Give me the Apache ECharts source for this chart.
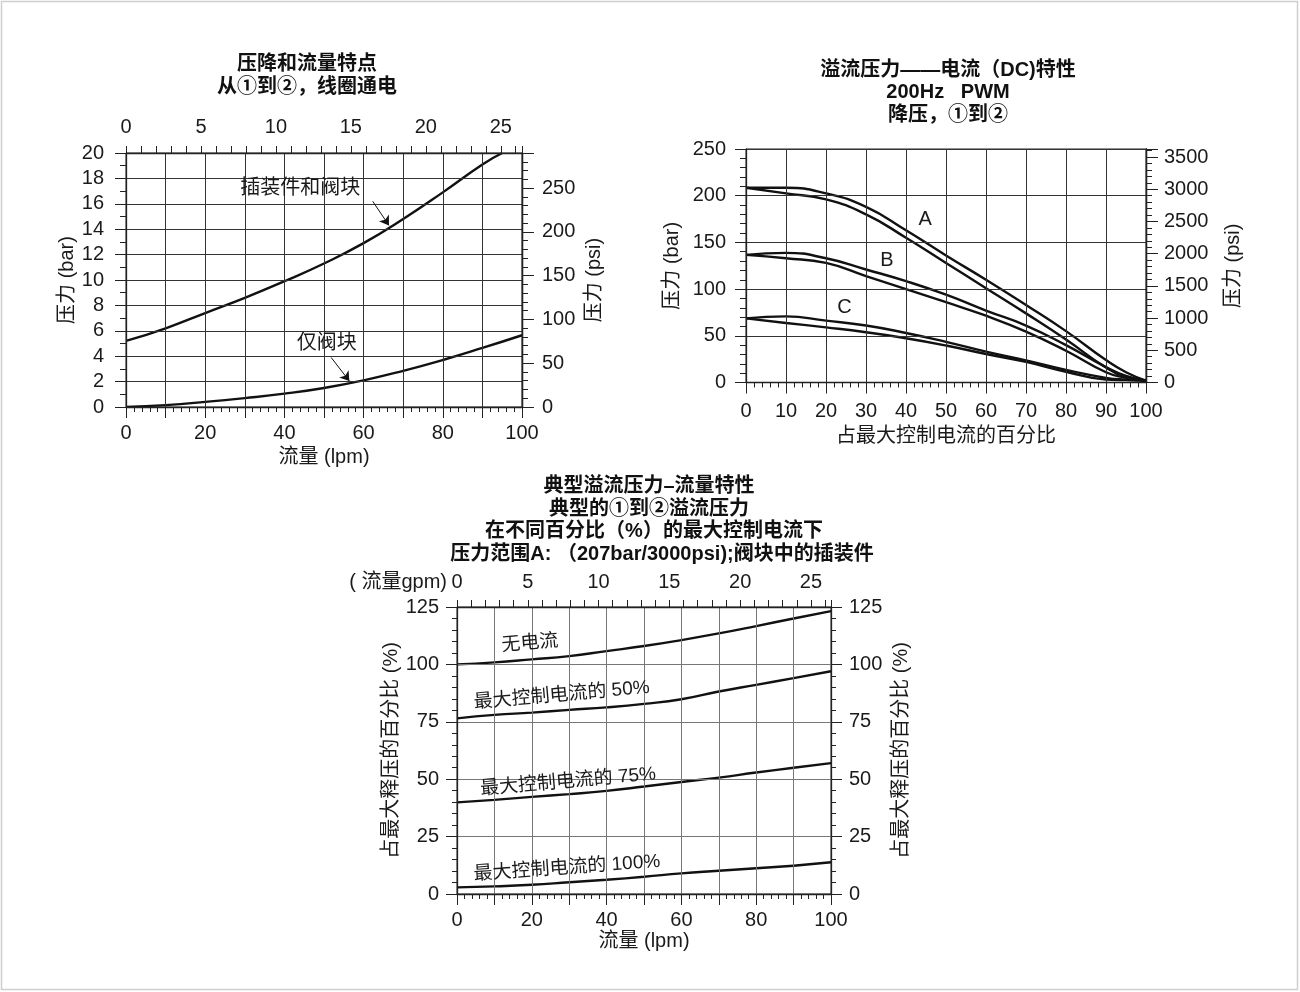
<!DOCTYPE html>
<html><head><meta charset="utf-8">
<script src="https://cdn.jsdelivr.net/npm/echarts@6/dist/echarts.min.js"></script>
<style>html,body{margin:0;padding:0;background:#fff}#c{width:1300px;height:992px}</style>
</head><body><div id="c"></div>
<script>
// ---------- data ----------
const BAR_TO_PSI = 14.5038;
const LPM_TO_GPM = 1 / 3.78541;

// Chart 1: pressure drop vs flow
const c1FlowA = [0, 10, 20, 30, 40, 50, 60, 70, 80, 90, 95];
const c1CartridgeBlock = [5.2, 6.2, 7.4, 8.6, 9.9, 11.3, 12.9, 14.8, 16.9, 19.1, 20.0];
const c1FlowB = [0, 10, 20, 30, 40, 50, 60, 70, 80, 90, 100];
const c1BlockOnly = [0, 0.15, 0.4, 0.7, 1.05, 1.5, 2.1, 2.85, 3.7, 4.65, 5.65];

// Chart 2: relief pressure vs current (hysteresis pairs)
const c2Pct = [0, 10, 20, 30, 40, 50, 60, 70, 80, 90, 95, 100];
const c2AUpper = [208.5, 208.5, 202.5, 188, 163, 136, 110, 83, 55, 24, 11, 2];
const c2ALower = [208.5, 202.5, 196, 180, 155, 128, 101, 74, 46, 16, 6, 2];
const c2BUpper = [136.6, 138.8, 133, 121, 108.5, 94, 77, 61, 40, 16.5, 7, 2];
const c2BLower = [136.6, 133, 128, 114, 100, 86, 71.5, 54.5, 34, 11, 5, 2];
const c2CUpper = [68.7, 70.8, 66.2, 61, 53, 43.5, 33, 23.7, 13.5, 5, 3, 2];
const c2CLower = [68.7, 63.7, 59, 53.8, 47.4, 39.6, 30.5, 22, 11.5, 3.2, 2.5, 2];

// Chart 3: relief pressure vs flow at various currents
const c3Flow = [0, 10, 20, 30, 40, 50, 60, 70, 80, 90, 100];
const c3NoCurrent = [100, 100.9, 102.2, 103.6, 105.8, 108, 110.6, 113.5, 116.7, 120, 123.2];
const c3Pct50 = [76.5, 78, 79, 80.2, 81.3, 82.8, 84.8, 88.2, 91.1, 94, 97];
const c3Pct75 = [39.9, 41, 42.3, 43.5, 44.9, 46.8, 48.8, 50.7, 52.9, 55, 57];
const c3Pct100 = [2.9, 3.3, 4, 5.1, 6.2, 7.5, 9, 10.1, 11.2, 12.3, 13.8];

// ---------- helpers ----------
const FONT = '"Liberation Sans", Arial, "Noto Sans CJK SC", sans-serif';
const TXT = '#1a1a1a';
const AX = '#222';
const zip = (xs, ys) => xs.map((x, i) => [x, ys[i]]);
const mult = (m) => (v) => (Math.abs(v / m - Math.round(v / m)) < 1e-6 ? String(Math.round(v)) : '');

function axis(o) {
  const a = {
    type: 'value',
    gridIndex: o.grid,
    position: o.position,
    min: o.min, max: o.max, interval: o.interval,
    axisLine: { show: true, onZero: false, lineStyle: { color: AX, width: 1.3 } },
    axisTick: { show: o.tick !== false, length: o.tickLen || 11, lineStyle: { color: AX, width: 1 } },
    minorTick: { show: !!o.minor, splitNumber: o.minor || 5, length: o.minorLen || 5, lineStyle: { color: AX, width: 1 } },
    axisLabel: { show: o.labels !== false, margin: o.margin || 18, fontSize: 20, fontFamily: FONT, color: TXT,
      formatter: o.fmt || ((v) => String(v)), showMinLabel: true, showMaxLabel: true },
    splitLine: { show: !!o.split, lineStyle: { color: o.splitColor || '#333', width: 1 } },
    minorSplitLine: { show: false },
    offset: 0,
    z: 5
  };
  if (o.name) {
    a.name = o.name;
    a.nameLocation = 'middle';
    a.nameGap = o.nameGap;
    if (o.nameRotate !== undefined) a.nameRotate = o.nameRotate;
    a.nameTextStyle = { fontSize: 20, fontFamily: FONT, color: TXT };
  }
  return a;
}

function line(xi, yi, xs, ys, extra) {
  return Object.assign({
    type: 'line', xAxisIndex: xi, yAxisIndex: yi,
    data: zip(xs, ys), smooth: 0.5,
    symbol: 'none', silent: true,
    lineStyle: { color: '#111', width: 2.4 }
  }, extra || {});
}

function textMark(label, coord, rotate) {
  return {
    silent: true, symbol: 'circle', symbolSize: 1,
    itemStyle: { color: 'rgba(0,0,0,0)' },
    label: { show: true, position: 'inside', formatter: label, fontSize: 20, fontFamily: FONT, color: TXT, rotate: rotate || 0 },
    data: [{ coord: coord }]
  };
}
function textMark2(items) {
  return {
    silent: true, symbol: 'circle', symbolSize: 1,
    itemStyle: { color: 'rgba(0,0,0,0)' },
    label: { show: true, position: 'inside', fontSize: 19, fontFamily: FONT, color: TXT },
    data: items.map(it => ({ coord: it.coord, label: { formatter: it.text, rotate: it.rotate || 0 } }))
  };
}
function arrow(from, to) {
  return {
    silent: true, symbol: ['none', 'arrow'], symbolSize: 9,
    label: { show: false },
    lineStyle: { color: '#111', width: 1, type: 'solid' },
    emphasis: { disabled: true },
    data: [[{ coord: from }, { coord: to }]]
  };
}

const TITLE_FONT = 'bold 20px "Liberation Sans", Arial, "Noto Sans CJK SC", sans-serif';
function title(text, x, y) {
  return { type: 'text', x: x, y: y, silent: true,
    style: { text: text, font: TITLE_FONT, fill: '#111', textAlign: 'center', textVerticalAlign: 'middle', align: 'center', verticalAlign: 'middle' } };
}

// ---------- option ----------
const gridStyle = { show: true, borderColor: AX, borderWidth: 1, backgroundColor: 'transparent', containLabel: false, outerBoundsMode: 'none' };

const option = {
  animation: false,
  backgroundColor: '#fff',
  grid: [
    Object.assign({ left: 126, top: 153, width: 396, height: 254 }, gridStyle),
    Object.assign({ left: 746, top: 149, width: 400, height: 233.5 }, gridStyle),
    Object.assign({ left: 457, top: 607, width: 374, height: 287 }, gridStyle)
  ],
  xAxis: [
    axis({ grid: 0, position: 'bottom', min: 0, max: 100, interval: 10, minor: 5, split: true, fmt: mult(20), margin: 16,
      name: '流量 (lpm)', nameGap: 40 }),
    axis({ grid: 0, position: 'top', min: 0, max: 100 * LPM_TO_GPM, interval: 1, tickLen: 7, fmt: mult(5), margin: 16 }),
    axis({ grid: 1, position: 'bottom', min: 0, max: 100, interval: 10, minor: 5, split: true, margin: 19,
      name: '占最大控制电流的百分比', nameGap: 44 }),
    axis({ grid: 2, position: 'bottom', min: 0, max: 100, interval: 10, minor: 5, split: true, splitColor: '#777', fmt: mult(20), margin: 16,
      name: '流量 (lpm)', nameGap: 37 }),
    axis({ grid: 2, position: 'top', min: 0, max: 100 * LPM_TO_GPM, interval: 1, tickLen: 7, fmt: mult(5), margin: 15 })
  ],
  yAxis: [
    axis({ grid: 0, position: 'left', min: 0, max: 20, interval: 2, minor: 2, minorLen: 6, split: true, margin: 22,
      name: '压力 (bar)', nameGap: 48, nameRotate: 90 }),
    axis({ grid: 0, position: 'right', min: 0, max: 20 * BAR_TO_PSI, interval: 10, tickLen: 6, fmt: mult(50), margin: 20,
      name: '压力 (psi)', nameGap: 62, nameRotate: 90 }),
    axis({ grid: 0, position: 'right', min: 0, max: 20 * BAR_TO_PSI, interval: 50, tickLen: 12, labels: false }),
    axis({ grid: 1, position: 'left', min: 0, max: 250, interval: 50, minor: 5, minorLen: 6, split: true, margin: 20,
      name: '压力 (bar)', nameGap: 64, nameRotate: 90 }),
    axis({ grid: 1, position: 'right', min: 0, max: 250 * BAR_TO_PSI, interval: 100, tickLen: 6, fmt: mult(500), margin: 18,
      name: '压力 (psi)', nameGap: 77, nameRotate: 90 }),
    axis({ grid: 1, position: 'right', min: 0, max: 250 * BAR_TO_PSI, interval: 500, tickLen: 12, labels: false }),
    axis({ grid: 2, position: 'left', min: 0, max: 125, interval: 25, minor: 5, minorLen: 5, split: true, splitColor: '#777', margin: 18,
      name: '占最大释压的百分比 (%)', nameGap: 56, nameRotate: 90 }),
    axis({ grid: 2, position: 'right', min: 0, max: 125, interval: 25, minor: 5, minorLen: 5, margin: 18,
      name: '占最大释压的百分比 (%)', nameGap: 60, nameRotate: 90 })
  ],
  series: [
    line(0, 0, c1FlowA, c1CartridgeBlock, {
      markPoint: textMark('插装件和阀块', [44, 17.2]),
      markLine: arrow([62.3, 16.2], [66.4, 14.3])
    }),
    line(0, 0, c1FlowB, c1BlockOnly, {
      markPoint: textMark('仅阀块', [50.7, 5.0]),
      markLine: arrow([51.8, 3.9], [56.4, 2.05])
    }),
    line(2, 3, c2Pct, c2AUpper, { markPoint: textMark('A', [44.8, 174]) }),
    line(2, 3, c2Pct, c2ALower),
    line(2, 3, c2Pct, c2BUpper, { markPoint: textMark('B', [35.2, 131]) }),
    line(2, 3, c2Pct, c2BLower),
    line(2, 3, c2Pct, c2CUpper, { markPoint: textMark('C', [24.6, 80]) }),
    line(2, 3, c2Pct, c2CLower),
    line(3, 6, c3Flow, c3NoCurrent, { markPoint: textMark2([{ text: '无电流', coord: [19.5, 109.2], rotate: 5 }]) }),
    line(3, 6, c3Flow, c3Pct50, { markPoint: textMark2([{ text: '最大控制电流的 50%', coord: [28, 86.6], rotate: 5 }]) }),
    line(3, 6, c3Flow, c3Pct75, { markPoint: textMark2([{ text: '最大控制电流的 75%', coord: [29.7, 48.9], rotate: 5 }]) }),
    line(3, 6, c3Flow, c3Pct100, { markPoint: textMark2([{ text: '最大控制电流的 100%', coord: [29.4, 11.3], rotate: 4 }]) })
  ],
  graphic: [
    { type: 'rect', silent: true, shape: { x: 1.5, y: 1.5, width: 1296, height: 988 }, style: { fill: 'none', stroke: '#cfcfcf', lineWidth: 1.5 } },
    title('压降和流量特点', 307, 64),
    title('从①到②，线圈通电', 307, 87),
    title('溢流压力——电流（DC)特性', 948, 70),
    title('200Hz   PWM', 948, 92),
    title('降压，①到②', 948, 115),
    title('典型溢流压力–流量特性', 649, 486),
    title('典型的①到②溢流压力', 649, 509),
    title('在不同百分比（%）的最大控制电流下', 654, 531),
    title('压力范围A: （207bar/3000psi);阀块中的插装件', 662, 554),
    { type: 'text', x: 447, y: 582, silent: true,
      style: { text: '( 流量gpm)', font: '20px "Liberation Sans", Arial, "Noto Sans CJK SC", sans-serif', fill: TXT,
        textAlign: 'right', textVerticalAlign: 'middle', align: 'right', verticalAlign: 'middle' } }
  ]
};

const chart = echarts.init(document.getElementById('c'), null, { renderer: 'canvas' });
chart.setOption(option);
</script>
</body></html>
